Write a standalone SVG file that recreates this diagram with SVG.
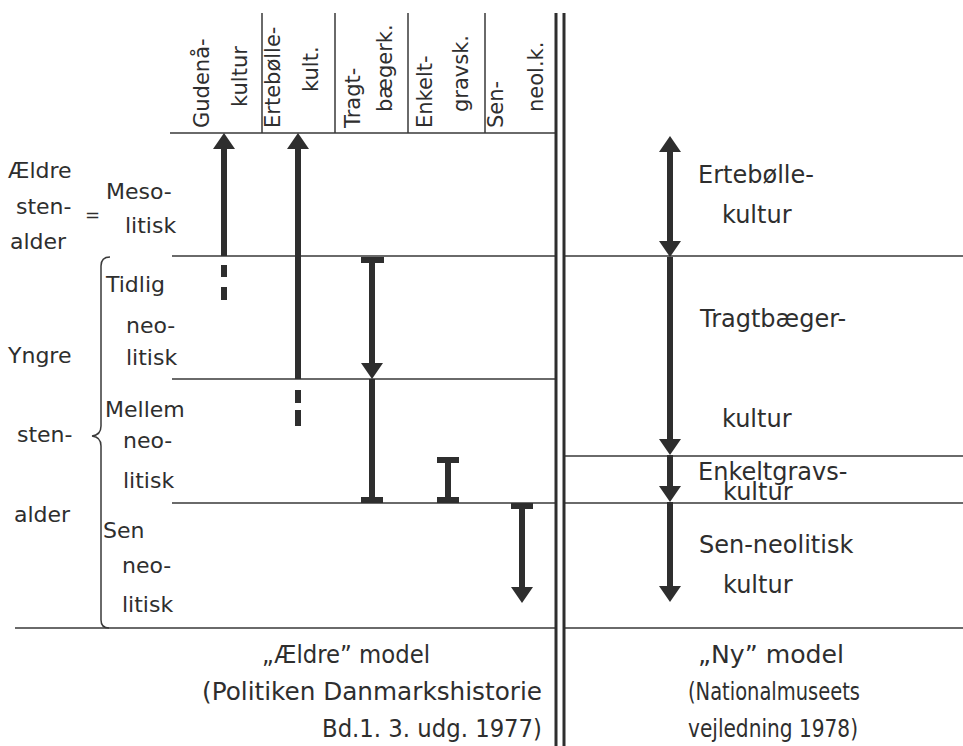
<svg xmlns="http://www.w3.org/2000/svg" width="963" height="746" viewBox="0 0 963 746">
<defs>
<marker id="ah" viewBox="0 0 16 22" refX="8" refY="11" markerWidth="16" markerHeight="22" markerUnits="userSpaceOnUse" orient="auto-start-reverse"><path d="M0,0 L16,11 L0,22 Z" fill="#2e2e2e"/></marker>
</defs>
<style>
text{font-family:"DejaVu Sans","Liberation Sans",sans-serif;fill:#2e2e2e}
.hd{font-size:21px}
.lb{font-size:22px}
.rt{font-size:24px}
.bt{font-size:24px}
.thin{stroke:#3a3a3a;stroke-width:1.5;fill:none}
.dbl{stroke:#2e2e2e;stroke-width:3;fill:none}
.shaft{stroke:#2e2e2e;stroke-width:6;fill:none}
.cap{stroke:#2e2e2e;stroke-width:6;fill:none}
</style>
<rect width="963" height="746" fill="#fff"/>
<g id="grid">
<path class="thin" d="M170,133H556 M262,13V133 M335,13V133 M408,13V133 M485,13V133"/>
<path class="thin" d="M172,256H556 M172,379H556 M172,503H556 M15,628H556"/>
<path class="thin" d="M564,256H963 M564,456H963 M564,503H963 M564,628H963"/>
<path class="dbl" d="M556,13V746 M564,13V746"/>
<path class="thin" d="M110,257 Q101,257 101,266 L101,426 Q101,435 92,436 Q101,437 101,446 L101,620 Q101,628 109,628"/>
</g>
<g id="headers" class="hd">
<text transform="translate(209,128) rotate(-90)">Gudenå-</text>
<text transform="translate(247,107) rotate(-90)">kultur</text>
<text transform="translate(280,128) rotate(-90)">Ertebølle-</text>
<text transform="translate(318,92) rotate(-90)">kult.</text>
<text transform="translate(360,128) rotate(-90)">Tragt-</text>
<text transform="translate(392,112) rotate(-90)">bægerk.</text>
<text transform="translate(432,128) rotate(-90)">Enkelt-</text>
<text transform="translate(468,112) rotate(-90)">gravsk.</text>
<text transform="translate(503,128) rotate(-90)">Sen-</text>
<text transform="translate(543,112) rotate(-90)">neol.k.</text>
</g>
<g id="periods" class="lb">
<text x="8" y="178">Ældre</text>
<text x="16" y="214">sten-</text>
<text x="10" y="249">alder</text>
<text x="85" y="221" style="font-size:18px">=</text>
<text x="106" y="199">Meso-</text>
<text x="125" y="233">litisk</text>
<text x="8" y="363">Yngre</text>
<text x="17" y="442">sten-</text>
<text x="14" y="522">alder</text>
<text x="106" y="292">Tidlig</text>
<text x="126" y="333">neo-</text>
<text x="126" y="365">litisk</text>
<text x="105" y="417">Mellem</text>
<text x="123" y="448">neo-</text>
<text x="123" y="488">litisk</text>
<text x="103" y="538">Sen</text>
<text x="122" y="573">neo-</text>
<text x="122" y="612">litisk</text>
</g>
<g id="new-model" class="rt">
<text x="698" y="183">Ertebølle-</text>
<text x="722" y="223">kultur</text>
<text x="700" y="327">Tragtbæger-</text>
<text x="722" y="427">kultur</text>
<text x="698" y="480">Enkeltgravs-</text>
<text x="723" y="500">kultur</text>
<text x="699" y="553">Sen-neolitisk</text>
<text x="723" y="593">kultur</text>
</g>
<g id="captions" class="bt">
<text x="262" y="663" textLength="168" lengthAdjust="spacingAndGlyphs">„Ældre” model</text>
<text x="202" y="700" textLength="340" lengthAdjust="spacingAndGlyphs">(Politiken Danmarkshistorie</text>
<text x="322" y="737" textLength="220" lengthAdjust="spacingAndGlyphs">Bd.1. 3. udg. 1977)</text>
<text x="698" y="663" textLength="146" lengthAdjust="spacingAndGlyphs">„Ny” model</text>
<text x="688" y="700" textLength="172" lengthAdjust="spacingAndGlyphs">(Nationalmuseets</text>
<text x="688" y="737" textLength="170" lengthAdjust="spacingAndGlyphs">vejledning 1978)</text>
</g>
<g id="connectors">
<path class="shaft" d="M224,256V141" marker-end="url(#ah)"/>
<path class="shaft" d="M224,265V277 M224,287V300"/>
<path class="shaft" d="M298,379V141" marker-end="url(#ah)"/>
<path class="shaft" d="M298,390V403 M298,410V426"/>
<path class="cap" d="M361,260H384 M361,500H383 M437,460H459 M437,500H459 M511,506H533"/>
<path class="shaft" d="M372,260V371" marker-end="url(#ah)"/>
<path class="shaft" d="M372,379V500"/>
<path class="shaft" d="M448,460V500"/>
<path class="shaft" d="M522,506V595" marker-end="url(#ah)"/>
<path class="shaft" d="M670,144V249" marker-start="url(#ah)" marker-end="url(#ah)"/>
<path class="shaft" d="M670,257V447" marker-end="url(#ah)"/>
<path class="shaft" d="M670,455V494" marker-end="url(#ah)"/>
<path class="shaft" d="M670,502V594" marker-end="url(#ah)"/>
</g>
</svg>
